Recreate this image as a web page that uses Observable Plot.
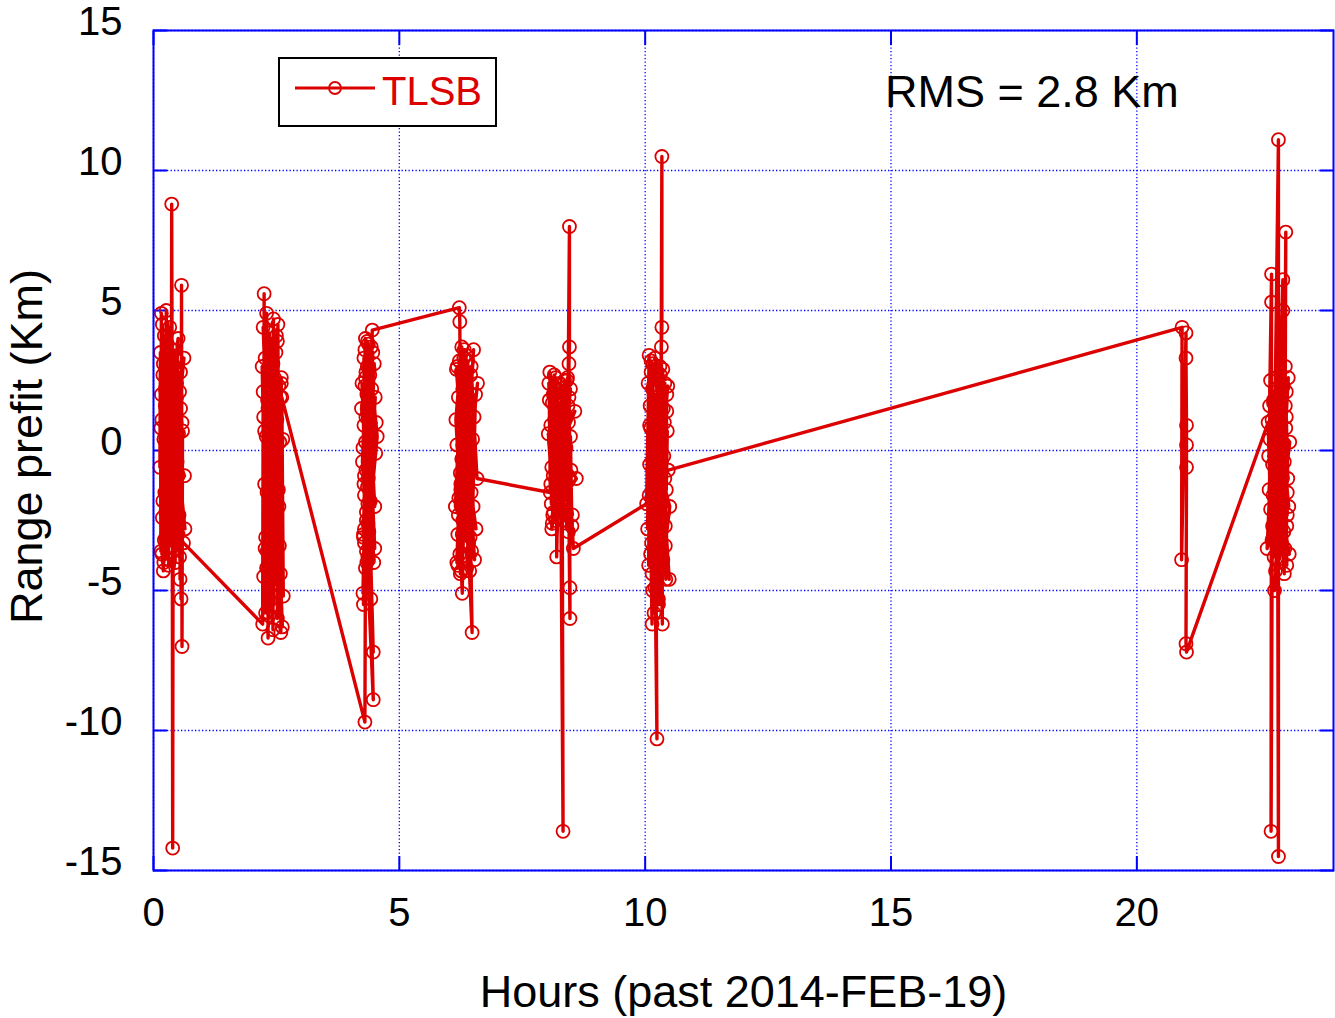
<!DOCTYPE html>
<html>
<head>
<meta charset="utf-8">
<script src="https://cdn.jsdelivr.net/npm/d3@7"></script>
<script src="https://cdn.jsdelivr.net/npm/@observablehq/plot@0.6"></script>
<style>
  html, body { margin: 0; padding: 0; background: #fff; }
  #wrap { position: relative; width: 1335px; height: 1018px; font-family: "Liberation Sans", Arial, sans-serif; }
  #legend { position: absolute; left: 278px; top: 57px; width: 215px; height: 66px; border: 2px solid #000; background: #fff; }
  #legend svg { position: absolute; left: 13px; top: 22px; }
  #legend span { position: absolute; left: 102px; top: 12px; font-size: 40px; line-height: 40px; color: #dc0000; }
  #rms { position: absolute; left: 885px; top: 69px; font-size: 45px; line-height: 45px; color: #000; white-space: nowrap; }
</style>
</head>
<body>
<div id="wrap"></div>
<script>
// ---- data ----
const seriesName = "TLSB";
const rmsText = "RMS = 2.8 Km";
const xTitle = "Hours (past 2014-FEB-19)";
const yTitle = "Range prefit (Km)";
const xTicks = [0, 5, 10, 15, 20];
const yTicks = [-15, -10, -5, 0, 5, 10, 15];

const c1Hours = [0.13,0.14,0.15,0.16,0.17,0.18,0.19,0.20,0.21,0.22,0.23,0.24,0.25,0.26,0.27,0.28,0.29,0.30,0.31,0.32,0.33,0.34,0.35,0.36,0.37,0.38,0.39,0.40,0.41,0.42,0.43,0.44,0.45,0.46,0.47,0.48,0.49,0.50,0.51,0.52,0.53,0.54,0.55,0.56,0.57,0.58,0.59,
  0.16,0.22,0.18,0.27,0.15,0.31,0.20,0.35,0.24,0.40,0.28,0.44,0.19,0.47,0.33,0.50,0.26,0.53,0.38,0.62,0.21,0.58,0.30,0.64,0.42,0.17,0.55,0.36,0.63,0.25,
  0.61];
const c1Values = [-0.6,3.5,-3.6,4.9,1.1,-2.4,2.7,-4.3,0.4,4.1,-1.5,2.2,-3.1,5.0,-0.9,1.7,-3.9,3.0,0.2,-2.0,4.4,-1.1,2.5,-3.4,8.8,1.3,-14.2,-0.3,3.6,-2.7,0.9,-4.0,2.9,-1.8,1.9,-0.4,3.2,-3.0,0.6,-2.3,2.1,-4.6,1.5,-5.3,5.9,-7.0,0.7,
  2.0,-3.2,4.5,-1.3,0.8,-4.1,3.1,-2.5,1.6,-0.7,3.8,-3.5,-1.8,2.4,-2.9,4.0,0.1,-3.8,2.6,3.3,-4.0,1.0,3.4,-2.8,-1.5,-3.7,2.8,0.5,-0.9,-2.2,
  -3.3];

const c2Hours = [2.22,2.23,2.24,2.25,2.26,2.27,2.28,2.29,2.30,2.31,2.32,2.33,2.34,2.35,2.36,2.37,2.38,2.39,2.40,2.41,2.42,2.43,2.44,2.45,2.46,2.47,2.48,2.49,2.50,2.51,2.52,2.53,2.54,2.55,2.56,2.57,2.58,2.59,2.60,
  2.21,2.30,2.26,2.38,2.23,2.45,2.33,2.52,2.28,2.58,2.40,2.63,2.35,2.48,2.24,2.55,2.43,2.62,2.31,2.50,2.27,2.60,2.37,2.46,2.64,
  2.61];
const c2Values = [-6.2,2.1,-4.5,5.6,-1.2,3.3,-5.8,0.5,4.9,-3.6,1.8,-6.7,2.9,-2.3,4.2,-0.6,-5.1,3.8,0.1,-3.9,1.4,-6.4,4.7,-1.9,2.6,-4.8,0.9,3.5,-2.9,1.1,-6.0,4.5,-1.4,2.3,-3.4,0.3,1.9,-6.5,2.4,
  3.0,-4.2,0.7,-2.6,4.4,-5.5,1.5,3.9,-3.1,-4.4,2.7,0.4,-5.9,-0.9,1.2,-2.0,3.1,-6.3,-1.5,4.1,-3.5,2.6,-4.6,0.0,-5.2,
  1.9];

const c3Hours = [4.30,4.32,4.27,4.35,4.29,4.47,4.31,4.25,4.36,4.28,4.33,4.40,4.26,4.34,4.37,4.30,4.47,4.29,4.35,4.27,4.39,4.32,4.50,4.31,4.36,4.28,4.49,4.34,4.30,4.52,4.33,4.38,4.29,4.43,4.35,4.31,4.40,4.37,
  4.24,4.38,4.26,4.46,4.31,4.53,4.28,4.42,4.35,4.50,4.23,4.44,4.33,4.55,4.37,4.29,4.48,4.32,4.41,4.27,4.51,4.36,
  4.45];
const c3Values = [-9.7,1.2,-3.1,3.9,-1.6,-8.9,2.6,-0.4,-3.8,3.3,-2.2,0.6,-5.1,2.0,-1.0,3.6,-7.2,-2.8,1.6,-5.5,2.9,-0.7,-3.5,4.0,-1.9,0.9,3.1,-4.0,2.3,-0.1,-2.5,1.8,-3.3,3.7,-1.3,0.3,2.7,-3.9,
  2.4,-2.9,0.1,3.5,-4.2,1.0,-1.2,-5.3,3.0,-2.0,1.5,2.2,-3.6,0.5,3.8,-0.9,-4.0,2.8,-1.8,-3.0,1.9,-2.6,
  4.3];

const c4Hours = [6.22,6.23,6.25,6.18,6.30,6.15,6.27,6.20,6.33,6.17,6.29,6.24,6.36,6.19,6.31,6.26,6.28,6.34,6.21,6.38,6.16,6.40,6.32,6.23,6.42,6.27,6.44,6.35,6.46,6.30,6.48,6.39,6.50,6.37,6.52,6.43,6.55,6.47,
  6.14,6.26,6.19,6.33,6.22,6.41,6.17,6.45,6.29,6.51,6.24,6.37,6.56,6.20,6.43,6.31,6.49,6.25,6.53,6.35,6.28,6.59,6.39,6.46,
  6.58];
const c4Values = [5.1,4.6,-1.2,3.0,-3.4,1.1,3.7,-2.3,0.4,-4.0,2.2,-0.8,3.4,-3.0,1.5,-4.3,-5.1,2.6,-1.7,0.9,2.9,-2.6,3.6,-3.7,1.8,-0.3,-3.1,2.5,-1.5,0.7,-6.5,3.2,-2.0,-4.2,1.2,-0.5,2.0,-3.6,
  -2.0,2.8,-4.1,1.0,3.2,-3.3,0.2,2.7,-2.5,3.6,-4.4,-0.9,-2.8,1.9,-4.3,3.3,0.4,-1.4,-3.9,1.3,-3.0,2.4,-1.1,3.0,
  -1.0];

const c5Hours = [8.07,8.05,8.10,8.04,8.12,8.08,8.15,8.09,8.17,8.11,8.19,8.13,8.21,8.20,8.23,8.16,8.25,8.18,8.27,8.22,8.29,8.24,8.31,8.33,8.28,8.35,8.30,8.37,8.32,8.39,8.41,8.36,8.43,8.46,8.46,8.45,8.47,8.47,8.42,8.49,8.44,8.51,8.48,
  8.03,8.14,8.06,8.22,8.10,8.30,8.13,8.38,8.18,8.45,8.26,8.52,8.08,8.34,8.57,8.20,8.40,8.11,8.48,8.28,8.60,8.16,8.44,8.36,
  8.54];
const c5Values = [-1.5,1.8,-0.6,2.4,-2.3,0.9,2.7,-1.9,0.2,-2.6,1.5,-0.9,2.2,-3.8,-1.2,1.1,-2.1,2.6,0.4,-1.6,1.9,-2.4,0.7,-13.6,-0.3,2.1,-1.4,1.3,-2.2,0.1,2.5,-1.8,1.6,8.0,3.7,3.1,-4.9,-6.0,2.6,-0.7,1.0,-2.7,0.5,
  0.6,-2.2,2.8,1.3,-2.8,-0.5,2.0,-1.7,-2.5,1.9,2.4,-2.3,-1.2,0.9,1.4,-0.2,-2.6,1.7,2.2,-1.9,-1.0,0.3,-2.9,2.5,
  -3.5];

const c6Hours = [10.03,10.08,10.05,10.10,10.07,10.12,10.09,10.14,10.11,10.16,10.13,10.18,10.15,10.20,10.17,10.22,10.19,10.24,10.21,10.26,10.23,10.28,10.25,10.30,10.27,10.32,10.34,10.34,10.33,10.35,10.31,10.37,10.36,10.40,10.38,10.42,10.39,10.44,10.41,10.45,10.43,
  10.06,10.15,10.09,10.23,10.12,10.29,10.18,10.36,10.08,10.41,10.25,10.46,10.14,10.33,10.49,10.20,10.38,10.11,10.44,10.27,10.50,10.17,10.31,10.40,
  10.47];
const c6Values = [-1.9,3.4,-2.8,1.6,-4.1,2.8,-0.5,-6.2,0.8,3.1,-3.3,-1.2,2.2,-4.9,0.3,1.9,-2.4,-10.3,-0.9,2.6,-3.6,1.2,-1.7,3.0,-5.3,0.5,10.5,4.4,3.7,-6.2,-2.0,1.5,-3.9,2.4,-0.2,-4.6,1.0,2.0,-2.7,0.7,-1.4,
  2.4,-5.0,0.9,-3.0,3.2,-1.1,-5.8,2.9,-1.6,-3.4,1.8,2.3,-4.4,-0.4,-4.6,3.3,-2.2,-3.7,1.4,-5.5,-2.0,0.2,2.7,-1.0,
  -0.7];

const c7Hours = [20.92,20.91,21.00,21.00,21.01,21.01,21.01,21.00,21.01];
const c7Values = [4.4,-3.9,4.2,3.3,0.9,0.2,-0.6,-6.9,-7.2];

const c8Hours = [22.67,22.72,22.70,22.74,22.74,22.73,22.76,22.78,22.75,22.80,22.77,22.82,22.79,22.84,22.81,22.88,22.88,22.86,22.83,22.90,22.85,22.92,22.87,22.94,22.91,22.97,22.97,22.96,22.93,22.99,23.03,23.02,23.00,23.04,23.01,23.05,23.03,23.06,23.04,23.07,
  22.65,22.78,22.69,22.86,22.72,22.95,22.76,23.02,22.82,23.08,22.90,23.10,22.71,22.98,23.06,22.80,22.93,22.68,23.09,22.84,23.00,22.75,23.11,22.89,
  23.05];
const c8Values = [1.0,-2.1,1.6,6.3,5.3,-13.6,-0.5,1.8,-3.2,0.2,-1.6,2.2,-3.8,-0.9,1.3,11.1,-14.5,0.6,-2.6,1.9,-1.2,-3.1,0.9,-2.0,2.0,6.1,5.0,-1.0,1.4,-2.9,7.8,3.0,-0.4,2.1,-3.5,-4.1,0.8,-2.3,1.2,-1.0,
  -3.5,1.7,-1.4,-3.9,2.5,-0.6,-2.7,1.6,-4.3,2.6,-3.3,-3.7,0.4,2.3,-1.5,-5.0,-1.8,-0.2,-2.0,2.6,-4.4,1.1,0.3,-3.0,
  -2.7];

// ---- build table ----
const hourLists = [c1Hours, c2Hours, c3Hours, c4Hours, c5Hours, c6Hours, c7Hours, c8Hours];
const valueLists = [c1Values, c2Values, c3Values, c4Values, c5Values, c6Values, c7Values, c8Values];
const data = [];
hourLists.forEach((hs, k) => hs.forEach((h, i) => data.push({hour: h, prefit: valueLists[k][i]})));

const red = "#dc0000";
const blue = "#0000ff";
const plain = d => String(d);

const chart = Plot.plot({
  width: 1335,
  height: 1018,
  marginLeft: 153,
  marginRight: 2,
  marginTop: 30,
  marginBottom: 148,
  x: {domain: [0, 24]},
  y: {domain: [-15, 15]},
  style: {fontFamily: "'Liberation Sans', Arial, sans-serif", background: "#fff", color: "#000"},
  marks: [
    Plot.gridX(xTicks, {stroke: blue, strokeOpacity: 1, strokeWidth: 1.3, strokeDasharray: "1.3,2.2"}),
    Plot.gridY(yTicks, {stroke: blue, strokeOpacity: 1, strokeWidth: 1.3, strokeDasharray: "1.3,2.2"}),
    Plot.axisX(xTicks, {anchor: "bottom", tickSize: -14, stroke: blue, strokeWidth: 2, tickFormat: () => "", label: null}),
    Plot.axisX(xTicks, {anchor: "top", tickSize: -14, stroke: blue, strokeWidth: 2, tickFormat: () => "", label: null}),
    Plot.axisY(yTicks, {anchor: "left", tickSize: -14, stroke: blue, strokeWidth: 2, tickFormat: () => "", label: null}),
    Plot.axisY(yTicks, {anchor: "right", tickSize: -14, stroke: blue, strokeWidth: 2, tickFormat: () => "", label: null}),
    Plot.line(data, {x: "hour", y: "prefit", stroke: red, strokeWidth: 3.4, strokeLinejoin: "round"}),
    Plot.dot(data, {x: "hour", y: "prefit", r: 6.5, stroke: red, strokeWidth: 1.8, fill: "none"}),
    Plot.frame({stroke: blue, strokeWidth: 2}),
    Plot.axisX(xTicks, {anchor: "bottom", tickSize: 0, tickPadding: 27, fontSize: 40, label: null, fill: "#000", tickFormat: plain}),
    Plot.axisY(yTicks, {anchor: "left", tickSize: 0, tickPadding: 31, fontSize: 40, dy: -8, label: null, fill: "#000", tickFormat: plain}),
    Plot.text([xTitle], {frameAnchor: "bottom", dy: 122, fontSize: 45, lineAnchor: "middle", textAnchor: "middle", fill: "#000"}),
    Plot.text([yTitle], {frameAnchor: "left", rotate: -90, dx: -126, dy: -4, fontSize: 45, lineAnchor: "middle", textAnchor: "middle", fill: "#000"})
  ]
});

const wrap = document.getElementById("wrap");
wrap.appendChild(chart);

// legend
const legend = document.createElement("div");
legend.id = "legend";
legend.innerHTML = `<svg width="84" height="14" viewBox="0 0 84 14"><line x1="2" y1="7" x2="82" y2="7" stroke="${red}" stroke-width="3.2"/><circle cx="42" cy="7" r="6" fill="none" stroke="${red}" stroke-width="1.8"/></svg><span></span>`;
legend.querySelector("span").textContent = seriesName;
wrap.appendChild(legend);

const rms = document.createElement("div");
rms.id = "rms";
rms.textContent = rmsText;
wrap.appendChild(rms);
</script>
</body>
</html>
